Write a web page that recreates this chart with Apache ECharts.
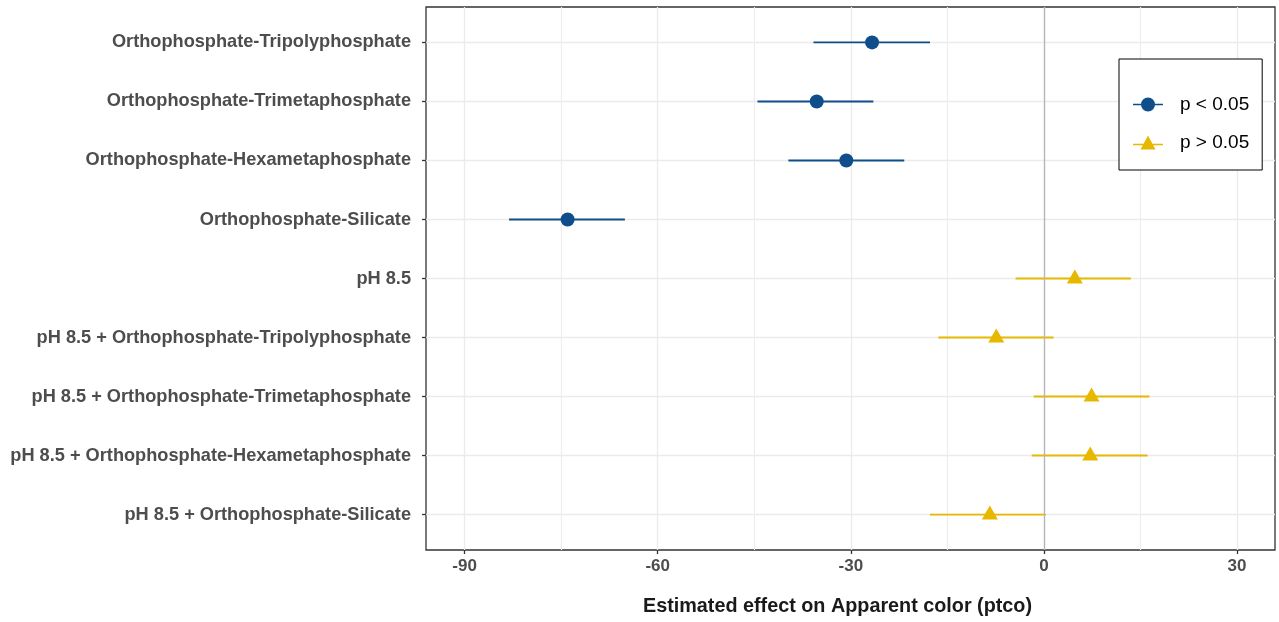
<!DOCTYPE html>
<html>
<head>
<meta charset="utf-8">
<script src="https://cdn.jsdelivr.net/npm/echarts@6/dist/echarts.min.js"></script>
<style>
  html, body { margin: 0; padding: 0; background: #fff; }
  #chart { width: 1279px; height: 622px; }
</style>
</head>
<body>
<div id="chart"></div>
<script>
// ---- data ----
const categories = [
  'Orthophosphate-Tripolyphosphate',
  'Orthophosphate-Trimetaphosphate',
  'Orthophosphate-Hexametaphosphate',
  'Orthophosphate-Silicate',
  'pH 8.5',
  'pH 8.5 + Orthophosphate-Tripolyphosphate',
  'pH 8.5 + Orthophosphate-Trimetaphosphate',
  'pH 8.5 + Orthophosphate-Hexametaphosphate',
  'pH 8.5 + Orthophosphate-Silicate'
];
const estimate = [-26.7, -35.3, -30.7, -74.0, 4.8, -7.4, 7.4, 7.2, -8.4];
const lower    = [-35.8, -44.5, -39.7, -83.1, -4.4, -16.4, -1.6, -1.9, -17.7];
const upper    = [-17.7, -26.5, -21.7, -65.1, 13.5, 1.5, 16.4, 16.1, 0.3];
const significant = [true, true, true, true, false, false, false, false, false];
const xMajorTicks = [-90, -60, -30, 0, 30];
const xMinorTicks = [-75, -45, -15, 15];
const legendNames = ['p < 0.05', 'p > 0.05'];

// ---- styles ----
const BLUE = '#104E8B';
const YELLOW = '#E7B800';
const FONT = '"Liberation Sans", Arial, sans-serif';

const rowIdx = categories.map((_, i) => i + 1);
function pointsFor(sig) {
  const out = [];
  categories.forEach((c, i) => { if (significant[i] === sig) out.push([estimate[i], rowIdx[i]]); });
  return out;
}
function barsFor(sig) {
  const out = [];
  categories.forEach((c, i) => { if (significant[i] === sig) out.push([lower[i], upper[i], rowIdx[i]]); });
  return out;
}
function barRenderer(color) {
  return function (params, api) {
    const y = api.value(2);
    const p1 = api.coord([api.value(0), y]);
    const p2 = api.coord([api.value(1), y]);
    return {
      type: 'line',
      shape: { x1: p1[0], y1: p1[1], x2: p2[0], y2: p2[1] },
      style: { stroke: color, lineWidth: 1.9 }
    };
  };
}

const circleIcon = 'path://M0,6.2H8.2V7.8H0Z M21.8,6.2H30V7.8H21.8Z M8,7A7,7 0 1,1 22,7A7,7 0 1,1 8,7Z';
const triIcon = 'path://M0,8.2H10.6V9.8H0Z M19.4,8.2H30V9.8H19.4Z M7.5,14L15,0L22.5,14Z';

const chart = echarts.init(document.getElementById('chart'), null, { renderer: 'canvas' });
chart.setOption({
  animation: false,
  backgroundColor: '#ffffff',
  grid: {
    left: 426, right: 4, top: 7, bottom: 71,
    show: true, borderColor: '#333333', borderWidth: 1.3, backgroundColor: '#ffffff'
  },
  legend: {
    orient: 'vertical',
    left: 1119, top: 59,
    padding: [36, 13, 18, 14],
    borderColor: '#000000', borderWidth: 1,
    backgroundColor: '#ffffff',
    itemWidth: 30, itemHeight: 14, itemGap: 19,
    textStyle: { fontFamily: FONT, fontSize: 19, color: '#000000', padding: [0, 0, 0, 12] },
    data: [
      { name: legendNames[0], icon: circleIcon, itemStyle: { color: BLUE } },
      { name: legendNames[1], icon: triIcon, itemStyle: { color: YELLOW } }
    ]
  },
  xAxis: [
    {
      type: 'value', min: -96, max: 35.9,
      name: 'Estimated effect on Apparent color (ptco)',
      nameLocation: 'middle', nameGap: 47,
      nameTextStyle: { fontFamily: FONT, fontSize: 19.8, fontWeight: 'bold', color: '#1A1A1A', padding: [0, 26, 0, 0] },
      axisLine: { show: false, onZero: false },
      axisTick: { show: true, length: 4, customValues: xMajorTicks, lineStyle: { color: '#333333', width: 1.3 } },
      axisLabel: { customValues: xMajorTicks, margin: 8, fontFamily: FONT, fontSize: 17, fontWeight: 'bold', color: '#4D4D4D' },
      splitLine: { show: true, lineStyle: { color: '#EBEBEB', width: 1.3 } }
    },
    {
      type: 'value', min: -96, max: 35.9, position: 'top',
      axisLine: { show: false, onZero: false },
      axisTick: { show: false, customValues: xMinorTicks },
      axisLabel: { show: false },
      splitLine: { show: true, lineStyle: { color: '#EDEDED', width: 1.2 } }
    }
  ],
  yAxis: {
    type: 'value', min: 0.4, max: 9.6, inverse: true, position: 'left',
    axisLine: { show: false, onZero: false },
    axisTick: { show: true, length: 4, customValues: rowIdx, lineStyle: { color: '#333333', width: 1.3 } },
    axisLabel: {
      customValues: rowIdx, margin: 15,
      fontFamily: FONT, fontSize: 18.2, fontWeight: 'bold', color: '#4D4D4D',
      formatter: v => categories[Math.round(v) - 1] || ''
    },
    splitLine: { show: true, lineStyle: { color: '#EBEBEB', width: 1.3 } }
  },
  series: [
    {
      name: 'ci-sig', type: 'custom', renderItem: barRenderer(BLUE),
      encode: { x: [0, 1], y: 2 }, data: barsFor(true), z: 3, silent: true,
      markLine: {
        silent: true, symbol: ['none', 'none'], label: { show: false },
        lineStyle: { color: '#B5B5B5', width: 1.3, type: 'solid' },
        data: [{ xAxis: 0 }]
      }
    },
    {
      name: 'ci-ns', type: 'custom', renderItem: barRenderer(YELLOW),
      encode: { x: [0, 1], y: 2 }, data: barsFor(false), z: 3, silent: true
    },
    {
      name: legendNames[0], type: 'scatter', symbol: 'circle', symbolSize: 14,
      itemStyle: { color: BLUE, opacity: 1 }, data: pointsFor(true), z: 4
    },
    {
      name: legendNames[1], type: 'scatter', symbol: 'triangle', symbolSize: [16, 14],
      symbolOffset: [0, -2],
      itemStyle: { color: YELLOW, opacity: 1 }, data: pointsFor(false), z: 4
    }
  ]
});
</script>
</body>
</html>
